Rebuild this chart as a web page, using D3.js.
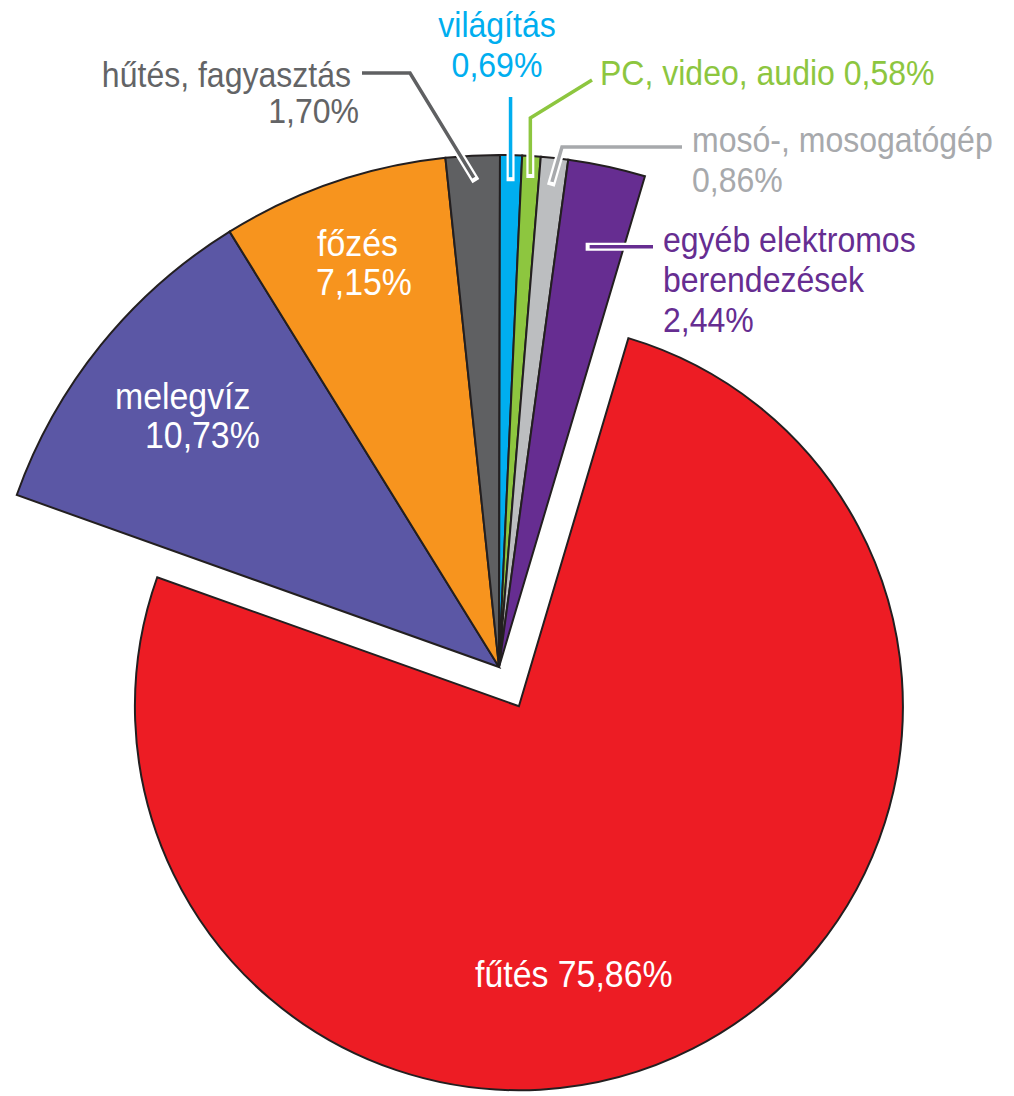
<!DOCTYPE html>
<html>
<head>
<meta charset="utf-8">
<script src="https://cdn.jsdelivr.net/npm/d3@7"></script>
<style>
  html, body { margin: 0; padding: 0; background: #fff; }
  svg { display: block; }
  text { font-family: "Liberation Sans", Arial, sans-serif; }
</style>
</head>
<body>
<svg id="chart" width="1014" height="1096"></svg>
<script>
// ---- data ----
const categories = ["fűtés", "melegvíz", "főzés", "hűtés, fagyasztás", "világítás", "PC, video, audio", "mosó-, mosogatógép", "egyéb elektromos berendezések"];
const values = [75.86, 10.73, 7.15, 1.70, 0.69, 0.58, 0.86, 2.44];
const valueLabels = ["75,86%", "10,73%", "7,15%", "1,70%", "0,69%", "0,58%", "0,86%", "2,44%"];
const colors = ["#ED1C24", "#5B57A5", "#F7941E", "#5F6062", "#00AEEF", "#8DC63F", "#BCBEC0", "#662D91"];
const textColors = ["#FFFFFF", "#FFFFFF", "#FFFFFF", "#636466", "#00AEEF", "#8DC63F", "#A7A9AC", "#662D91"];
const lineColors = [null, null, null, "#5F6062", "#00AEEF", "#8DC63F", "#A7A9AC", "#662D91"];

// ---- layout ----
const cx = 499, cy = 667;
const rOuter = 512, rExploded = 384, explode = 44;
const startDeg = 16.56;
const squeeze = 0.915;

const svg = d3.select("#chart");
const g = svg.append("g").attr("transform", `translate(${cx},${cy})`);

const pie = d3.pie().sort(null).value(d => d)
  .startAngle(startDeg * Math.PI / 180)
  .endAngle(startDeg * Math.PI / 180 + 2 * Math.PI);
const arcs = pie(values);

const arcBig = d3.arc().innerRadius(0).outerRadius(rOuter);
const arcRed = d3.arc().innerRadius(0).outerRadius(rExploded);

function mid(a) { return (a.startAngle + a.endAngle) / 2; }
function polar(angle, r) { return [Math.sin(angle) * r, -Math.cos(angle) * r]; }

g.selectAll("path.slice").data(arcs).enter().append("path")
  .attr("class", "slice")
  .attr("d", (d, i) => i === 0 ? arcRed(d) : arcBig(d))
  .attr("transform", (d, i) => {
    if (i !== 0) return null;
    const p = polar(mid(d), explode);
    return `translate(${p[0]},${p[1]})`;
  })
  .attr("fill", (d, i) => colors[i])
  .attr("stroke", "#231F20")
  .attr("stroke-width", 2)
  .attr("stroke-linejoin", "miter");

// leader lines (label side points are layout; slice end from the arc's mid angle)
const leaders = {
  3: { r: 490, pts: e => [[362 - cx, 73 - cy], [410 - cx, 73 - cy], e] },
  4: { r: 490, pts: e => [[e[0], 97 - cy], e] },
  5: { r: 494, pts: e => [[592 - cx, 80 - cy], [e[0], 118 - cy], e] },
  6: { r: 488, pts: e => [[682 - cx, 147 - cy], [562 - cx, 147 - cy], e] },
  7: { r: 430, pts: e => [[653 - cx, e[1]], e] }
};
const line = d3.line();
Object.keys(leaders).forEach(k => {
  const i = +k;
  const L = leaders[k];
  const e = polar(mid(arcs[i]), L.r);
  const pts = L.pts(e);
  g.append("path").attr("d", line(pts)).attr("fill", "none")
    .attr("stroke", "#fff").attr("stroke-width", 8).attr("stroke-linecap", "square");
  g.append("path").attr("d", line(pts)).attr("fill", "none")
    .attr("stroke", lineColors[i]).attr("stroke-width", 3.5).attr("stroke-linecap", "butt");
});

// labels
const labelLayout = [
  { size: 37, lines: [[categories[0] + " " + valueLabels[0], 475, 987, "start"]] },
  { size: 37, lines: [[categories[1], 115, 409, "start"], [valueLabels[1], 145, 448, "start"]] },
  { size: 37, lines: [[categories[2], 317, 256, "start"], [valueLabels[2], 316, 295, "start"]] },
  { size: 35, lines: [[categories[3], 351, 87, "end"], [valueLabels[3], 359, 123, "end"]] },
  { size: 35, lines: [[categories[4], 497, 37, "middle"], [valueLabels[4], 497, 77, "middle"]] },
  { size: 35, lines: [[categories[5] + " " + valueLabels[5], 600, 85, "start"]] },
  { size: 35, lines: [[categories[6], 692, 152, "start"], [valueLabels[6], 692, 192, "start"]] },
  { size: 35, lines: [["egyéb elektromos", 663, 252, "start"], ["berendezések", 663, 292, "start"], [valueLabels[7], 663, 332, "start"]] }
];
labelLayout.forEach((L, i) => {
  L.lines.forEach(([t, x, y, a]) => {
    svg.append("text")
      .attr("transform", `translate(${x},${y}) scale(${squeeze},1)`)
      .attr("text-anchor", a)
      .attr("font-size", L.size)
      .attr("fill", textColors[i])
      .text(t);
  });
});
</script>
</body>
</html>
